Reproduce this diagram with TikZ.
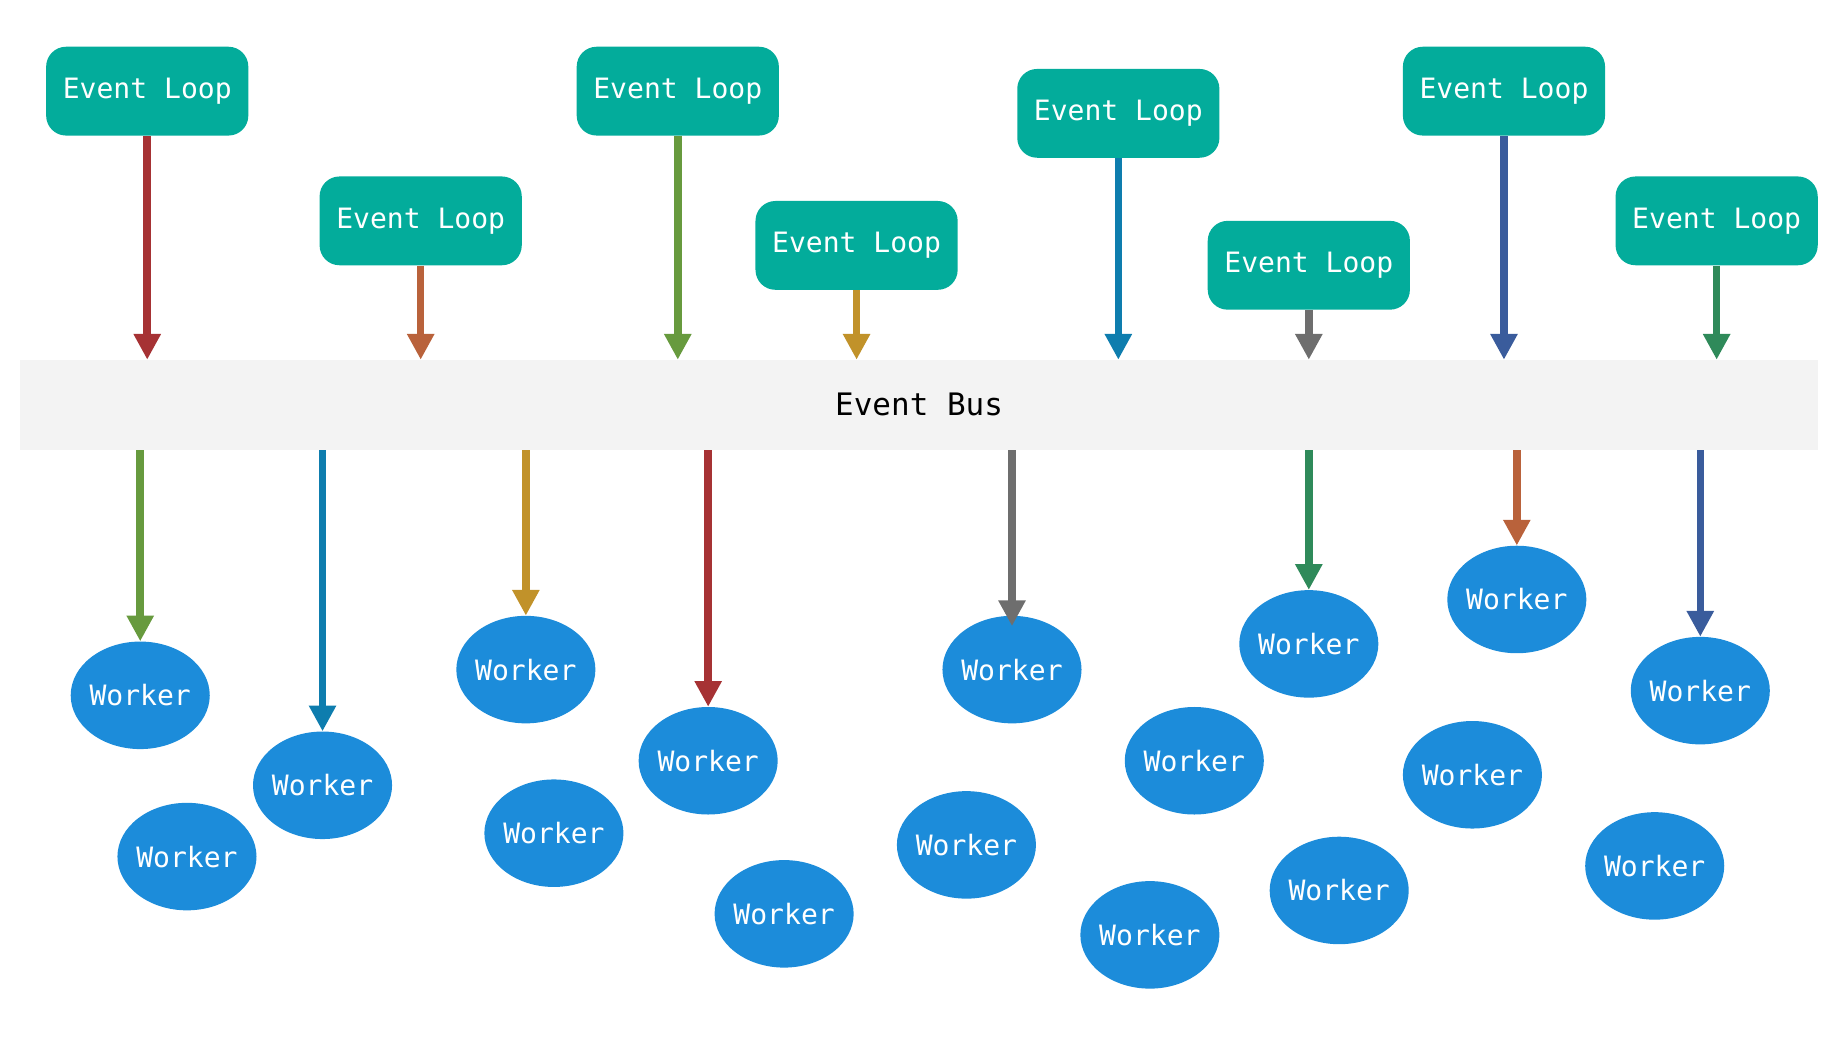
\documentclass[tikz,border=0pt]{standalone}
\usepackage{fontspec}
\setmonofont{DejaVu Sans Mono}
\usetikzlibrary{shapes.geometric,arrows.meta}
\definecolor{teal}{HTML}{03AC9B}
\definecolor{wblue}{HTML}{1C8CDA}
\definecolor{busgray}{HTML}{F3F3F3}
\definecolor{cred}{HTML}{A63234}
\definecolor{corange}{HTML}{B9623B}
\definecolor{colive}{HTML}{679A3E}
\definecolor{cgold}{HTML}{C1922A}
\definecolor{cblue}{HTML}{0E7DAE}
\definecolor{cgray}{HTML}{6E6E6E}
\definecolor{cnavy}{HTML}{3A5C9C}
\definecolor{cgreen}{HTML}{2F8A5A}
\tikzset{
  loopbox/.style={rectangle, rounded corners=17pt, fill=teal, text=white,
    minimum width=173pt, minimum height=76pt, inner sep=0pt,
    font=\ttfamily\fontsize{24}{28}\selectfont},
  worker/.style={ellipse, fill=wblue, minimum width=119pt,
    minimum height=92pt, inner sep=0pt,
    label={[text=white, inner sep=0pt, font=\ttfamily\fontsize{24}{28}\selectfont]center:Worker}},
  bus/.style={rectangle, fill=busgray, minimum width=1539pt, minimum height=77pt,
    inner sep=0pt, font=\ttfamily\fontsize{26.5}{30}\selectfont},
  flow/.style={line width=6.5pt, -{Triangle[width=22pt,length=22pt]}},
}
\begin{document}
\begin{tikzpicture}[x=1pt,y=-1pt]
\useasboundingbox (0,0) rectangle (1566,888);
\node[bus] (bus) at (786.5,346.5) {Event Bus};
% event loops
\node[loopbox] (l1) at (126,78) {Event Loop};
\node[loopbox] (l2) at (360,189) {Event Loop};
\node[loopbox] (l3) at (580,78) {Event Loop};
\node[loopbox] (l4) at (733,210) {Event Loop};
\node[loopbox] (l5) at (957,97) {Event Loop};
\node[loopbox] (l6) at (1120,227) {Event Loop};
\node[loopbox] (l7) at (1287,78) {Event Loop};
\node[loopbox] (l8) at (1469,189) {Event Loop};
% workers
\node[worker] (w1) at (120,595) {};
\node[worker] (w2) at (160,733) {};
\node[worker] (w3) at (276,672) {};
\node[worker] (w4) at (450,573) {};
\node[worker] (w5) at (474,713) {};
\node[worker] (w6) at (606,651) {};
\node[worker] (w7) at (671,782) {};
\node[worker] (w8) at (827,723) {};
\node[worker] (w9) at (866,573) {};
\node[worker] (w10) at (1022,651) {};
\node[worker] (w11) at (984,800) {};
\node[worker] (w12) at (1120,551) {};
\node[worker] (w13) at (1146,762) {};
\node[worker] (w14) at (1298,513) {};
\node[worker] (w15) at (1260,663) {};
\node[worker] (w16) at (1455,591) {};
\node[worker] (w17) at (1416,741) {};
% top arrows
\draw[flow, cred] (l1.south) -- (l1.south |- bus.north);
\draw[flow, corange] (l2.south) -- (l2.south |- bus.north);
\draw[flow, colive] (l3.south) -- (l3.south |- bus.north);
\draw[flow, cgold] (l4.south) -- (l4.south |- bus.north);
\draw[flow, cblue] (l5.south) -- (l5.south |- bus.north);
\draw[flow, cgray] (l6.south) -- (l6.south |- bus.north);
\draw[flow, cnavy] (l7.south) -- (l7.south |- bus.north);
\draw[flow, cgreen] (l8.south) -- (l8.south |- bus.north);
% bottom arrows
\draw[flow, colive] (w1.north |- bus.south) -- (w1.north);
\draw[flow, cblue] (w3.north |- bus.south) -- (w3.north);
\draw[flow, cgold] (w4.north |- bus.south) -- (w4.north);
\draw[flow, cred] (w6.north |- bus.south) -- (w6.north);
\draw[flow, cgray, shorten >=-9pt] (w9.north |- bus.south) -- (w9.north);
\draw[flow, cgreen] (w12.north |- bus.south) -- (w12.north);
\draw[flow, corange] (w14.north |- bus.south) -- (w14.north);
\draw[flow, cnavy] (w16.north |- bus.south) -- (w16.north);
\end{tikzpicture}
\end{document}
